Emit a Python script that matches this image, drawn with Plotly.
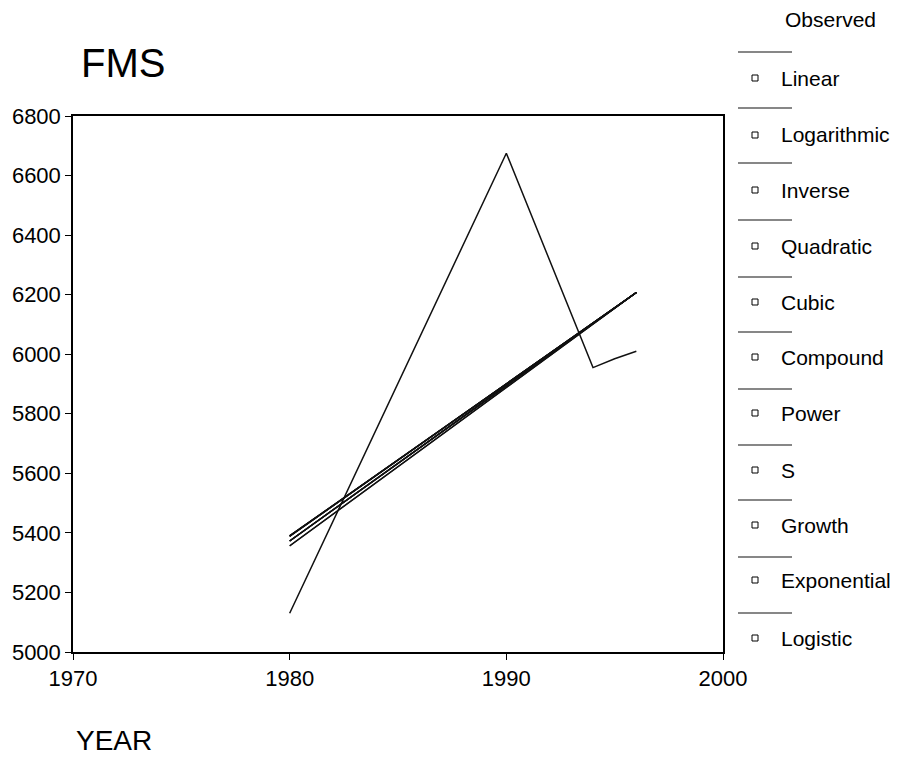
import plotly.graph_objects as go

# ---- data ----
years = [1980, 1990, 1994, 1995, 1996]
observed = [5130, 6675, 5955, 5985, 6010]

fit_names = ["Linear", "Logarithmic", "Inverse", "Quadratic", "Cubic",
             "Compound", "Power", "S", "Growth", "Exponential", "Logistic"]
linear = [5390, 5901, 6105, 6156, 6207]
logarithmic = [5389, 5901, 6105, 6156, 6207]
inverse = [5388, 5900, 6105, 6156, 6207]
quadratic = [5390, 5901, 6105, 6156, 6207]
cubic = [5390, 5901, 6105, 6156, 6207]
compound = [5373, 5894, 6103, 6155, 6207]
power = [5356, 5888, 6100, 6154, 6207]
s_curve = [5357, 5888, 6100, 6154, 6207]
growth = [5373, 5894, 6103, 6155, 6207]
exponential = [5373, 5894, 6103, 6155, 6207]
logistic = [5373, 5894, 6103, 6155, 6207]
fit_values = [linear, logarithmic, inverse, quadratic, cubic,
              compound, power, s_curve, growth, exponential, logistic]

x_ticks = [1970, 1980, 1990, 2000]
y_ticks = [5000, 5200, 5400, 5600, 5800, 6000, 6200, 6400, 6600, 6800]

# ---- layout geometry (page pixels; the page body adds an 8px offset) ----
OFF = 8
W, H = 906 - OFF, 758 - OFF
L, R, T, B = 73, 723, 116, 652  # page coordinates of plot area

def xp(px):
    return (px - L) / (R - L)

def yp(py):
    return (B - py) / (B - T)

FONT = "Liberation Sans, Arial, sans-serif"

fig = go.Figure()
fig.add_trace(go.Scatter(x=years, y=observed, mode="lines", name="Observed",
                         line=dict(color="#111111", width=1.5)))
for name, vals in zip(fit_names, fit_values):
    fig.add_trace(go.Scatter(x=years, y=vals, mode="lines", name=name,
                             line=dict(color="#111111", width=1.3)))

annotations = []
shapes = []

# title and axis title
annotations.append(dict(text="FMS", x=xp(79), y=yp(63), xref="paper", yref="paper",
                        xanchor="left", yanchor="middle", showarrow=False,
                        font=dict(size=40, family=FONT, color="black")))
annotations.append(dict(text="YEAR", x=xp(74), y=yp(740), xref="paper", yref="paper",
                        xanchor="left", yanchor="middle", showarrow=False,
                        font=dict(size=28, family=FONT, color="black")))

# custom legend
annotations.append(dict(text="Observed", x=xp(783), y=yp(20), xref="paper", yref="paper",
                        xanchor="left", yanchor="middle", showarrow=False,
                        font=dict(size=21, family=FONT, color="black")))
label_y = [78, 135, 190, 246, 302, 357, 413, 470, 525, 580, 638]
line_y = [52, 108, 163, 220, 277, 332, 389, 445, 500, 557, 613]
for name, ly in zip(fit_names, label_y):
    annotations.append(dict(text=name, x=xp(779), y=yp(ly), xref="paper", yref="paper",
                            xanchor="left", yanchor="middle", showarrow=False,
                            font=dict(size=21, family=FONT, color="black")))
    shapes.append(dict(type="rect", xref="paper", yref="paper",
                       x0=xp(752), x1=xp(758), y0=yp(ly + 3), y1=yp(ly - 3),
                       line=dict(color="black", width=1)))
for ly in line_y:
    shapes.append(dict(type="line", xref="paper", yref="paper",
                       x0=xp(738), x1=xp(792), y0=yp(ly), y1=yp(ly),
                       line=dict(color="#111111", width=1.2)))

fig.update_layout(
    width=W, height=H,
    margin=dict(l=L - OFF, r=W - (R - OFF), t=T - OFF, b=H - (B - OFF), pad=0,
                autoexpand=False),
    paper_bgcolor="white", plot_bgcolor="white",
    showlegend=False,
    font=dict(family=FONT, color="black", size=22),
    annotations=annotations, shapes=shapes,
)
fig.update_xaxes(range=[1970, 2000], tickvals=x_ticks, ticktext=[str(v) for v in x_ticks],
                 showgrid=False, zeroline=False, showline=True, linecolor="black",
                 linewidth=1.5, mirror=True, ticks="outside", ticklen=6, tickcolor="black",
                 automargin=False,
                 tickfont=dict(size=22, family=FONT, color="black"))
fig.update_yaxes(range=[5000, 6800], tickvals=y_ticks, ticktext=[str(v) for v in y_ticks],
                 showgrid=False, zeroline=False, showline=True, linecolor="black",
                 linewidth=1.5, mirror=True, ticks="outside", ticklen=6, tickcolor="black",
                 automargin=False,
                 tickfont=dict(size=22, family=FONT, color="black"))

fig.write_html("out.html")
